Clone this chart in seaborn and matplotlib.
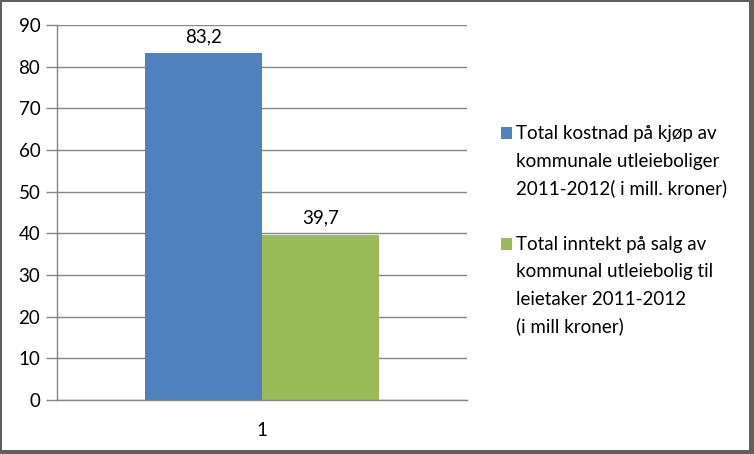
import matplotlib
matplotlib.use("Agg")
import matplotlib.pyplot as plt
import seaborn as sns
import pandas as pd
from matplotlib.patches import Rectangle

categories = ["1"]
series = ["Total kostnad på kjøp av\nkommunale utleieboliger\n2011-2012( i mill. kroner)",
          "Total inntekt på salg av\nkommunal utleiebolig til\nleietaker 2011-2012\n(i mill kroner)"]
values = [83.2, 39.7]
value_labels = ["83,2", "39,7"]
colors = ["#4F81BD", "#9BBB59"]
yticks = [0, 10, 20, 30, 40, 50, 60, 70, 80, 90]

sns.set_theme(style="white")
plt.rcParams['font.family'] = ['Lato', 'DejaVu Sans']

df = pd.DataFrame({"cat": categories * len(series), "series": series, "val": values})

W, H = 754, 454
fs = 13.5
fig = plt.figure(figsize=(W / 100, H / 100), dpi=100)
fig.patch.set_facecolor("#5f5f5f")
# white inner panel (frame with heavier right/bottom shadow)
fig.add_artist(Rectangle((2 / W, 1 - 450 / H), 747 / W, 448 / H, transform=fig.transFigure,
                         facecolor="white", edgecolor="none", zorder=-1))

ax = fig.add_axes([57 / W, 1 - 400 / H, (467 - 57) / W, (400 - 25) / H])
ax.patch.set_alpha(0)

sns.barplot(data=df, x="cat", y="val", hue="series", palette=colors, saturation=1,
            width=0.57, ax=ax, edgecolor="none", linewidth=0, legend=False)

ax.set_xlim(-0.5, 0.5)
ax.set_ylim(0, 90)
ax.set_yticks(yticks)
ax.set_yticklabels([str(t) for t in yticks], fontsize=fs, color="black")
ax.set_xlabel("")
ax.set_ylabel("")
ax.tick_params(axis="x", labelsize=fs, length=0, pad=16, colors="black")
ax.set_xticks([-0.5, 0.5], minor=True)
ax.tick_params(axis="x", which="minor", length=7, width=1, color="#868686", direction="out")
ax.tick_params(axis="y", length=8, width=1, color="#868686", direction="out", pad=4, left=True)
ax.grid(axis="y", color="#868686", linewidth=1)
ax.set_axisbelow(True)
for s in ["top", "right"]:
    ax.spines[s].set_visible(False)
for s in ["left", "bottom"]:
    ax.spines[s].set_color("#868686")
    ax.spines[s].set_linewidth(1)

for cont, lab in zip(ax.containers, value_labels):
    ax.bar_label(cont, labels=[lab], padding=6, fontsize=fs, color="black")

# legend (manual, square aligned with first line)
first_baselines = [139, 250]
line_step = 27.5
for lab, col, yb in zip(series, colors, first_baselines):
    fig.add_artist(Rectangle((501 / W, 1 - (yb) / H), 11 / W, 11.5 / H,
                             transform=fig.transFigure, facecolor=col, edgecolor="none"))
    for i, line in enumerate(lab.split("\n")):
        fig.text(516 / W, 1 - (yb + i * line_step) / H, line, fontsize=fs,
                 color="black", ha="left", va="baseline")

fig.savefig("out.png", dpi=100, facecolor=fig.get_facecolor())
